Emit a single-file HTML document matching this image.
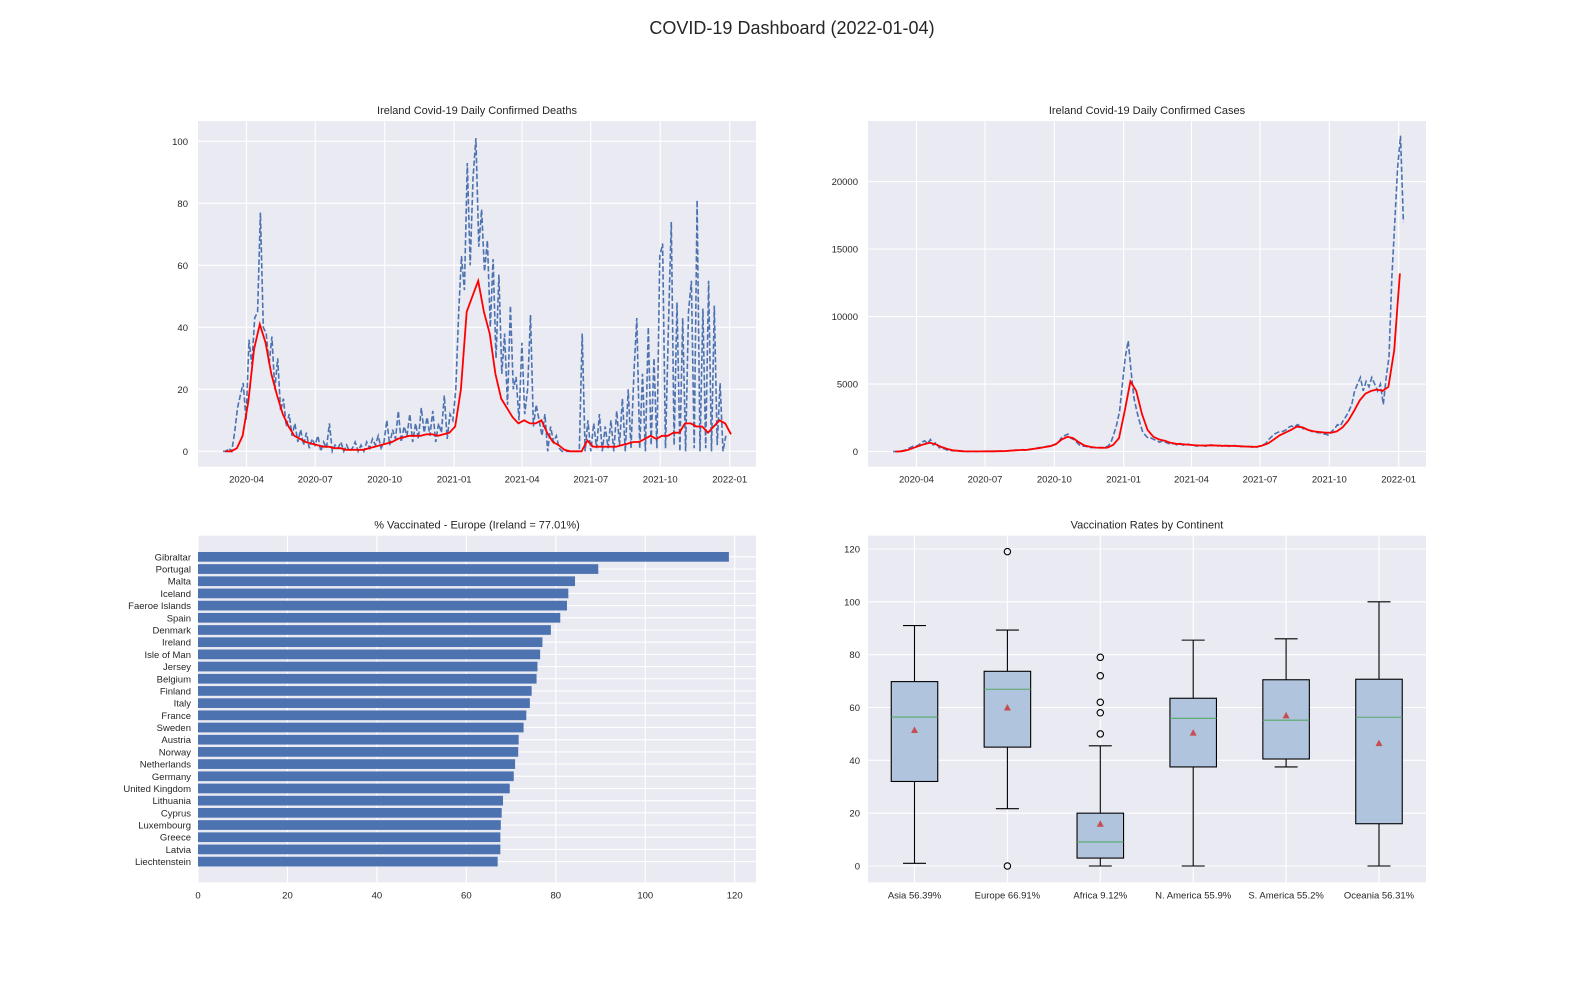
<!DOCTYPE html>
<html><head><meta charset="utf-8"><title>COVID-19 Dashboard</title>
<style>
html,body{margin:0;padding:0;background:#fff;}
svg{display:block;font-family:"Liberation Sans",Arial,sans-serif;}
</style></head>
<body>
<svg id="fig" width="1584" height="1008" viewBox="0 0 1584 1008" xmlns="http://www.w3.org/2000/svg">
<text x="792" y="34" text-anchor="middle" font-size="18" fill="#262626">COVID-19 Dashboard (2022-01-04)</text>
</svg>
<script>
// ---------- DATA ----------
// Daily deaths (raw), 8 samples per month, Mar 2020 .. Dec 2021
const deathsRaw = [
[0,0,1,0,6,14,18,22],[10,36,28,43,45,77,40,38],[28,37,20,30,13,17,8,12],[5,9,3,7,2,6,1,4],
[2,5,0,3,1,9,0,2],[1,3,0,2,0,1,3,0],[2,0,3,1,4,2,5,1],[3,10,2,7,4,13,3,8],
[5,12,3,9,4,14,6,11],[5,13,3,9,6,18,4,12],[10,20,45,63,52,93,60,88],[101,66,78,58,68,40,62,30],
[57,25,38,15,47,20,24,10],[35,12,20,44,8,15,10,5],[12,0,8,3,5,1,0,0],[0,0,0,0,0,38,0,10],
[0,9,1,12,0,8,1,10],[0,13,2,17,0,20,1,25],[43,1,25,0,40,2,30,1],[63,67,1,40,74,2,48,0],
[43,0,45,55,1,81,0,46],[1,55,0,47,2,22,0,5]];
// 7-day average deaths, 4 samples per month
const deathsAvg = [
[0,0,1,5],[16,33,41,35],[25,18,12,8],[5,4,3,2.5],[2,1.5,1.5,1],[1,0.5,0.5,0.5],[0.5,1,1.5,2],
[2.5,3,4,4.5],[5,5,5,5.5],[5.5,5,5.5,6],[8,20,45,50],[55,45,38,25],[17,14,11,9],[10,9,9,10],
[6,3,2,0.5],[0,0,0,3.5],[1.5,1.5,1.5,1.5],[1.5,2,2.5,3],[3,4,5,4],[5,5,6,6],[9,9,8,8],[6,8,10,9],[5.5]];
// Daily cases (raw), 8 samples per month, Mar 2020 .. Jan 2022
const casesRaw = [
[0,0,10,50,100,200,300,400],[400,500,700,800,600,900,500,700],[300,250,200,100,80,60,50,40],
[20,15,10,20,10,15,10,20],[20,30,20,30,20,40,30,50],[60,80,100,120,90,150,100,200],
[150,200,250,300,300,350,400,450],[500,600,800,1100,1200,1300,1000,900],[700,500,400,400,350,300,300,300],
[300,300,350,400,700,1300,2000,3000],[5000,7000,8200,6000,4000,3000,2200,1500],[1200,1000,1000,900,800,700,800,700],
[600,550,600,500,600,500,450,550],[500,450,400,500,450,400,450,500],[450,400,450,400,450,400,380,450],
[400,350,400,350,380,350,300,350],[400,500,600,900,1100,1300,1400,1500],[1500,1600,1800,1900,1800,2000,1900,1700],
[1700,1600,1500,1500,1400,1400,1300,1300],[1200,1500,1700,2000,1900,2300,2600,3000],[3500,4500,5000,5500,4500,5200,4800,5500],
[5000,4500,5000,3500,5500,7000,13000,17000],[21000,23400,17000]];
// 7-day average cases, 4 samples per month
const casesAvg = [
[0,20,100,250],[400,550,650,550],[350,200,100,60],[20,15,15,15],[20,25,30,40],[70,100,120,130],
[200,250,330,400],[550,900,1100,1000],[700,450,350,300],[280,300,500,1000],[3000,5200,4500,2800],
[1600,1100,900,800],[650,580,550,520],[480,450,450,470],[450,430,430,420],[400,380,360,350],
[450,600,900,1200],[1400,1600,1850,1800],[1600,1500,1450,1400],[1400,1500,1800,2300],
[3000,3800,4300,4500],[4600,4500,4800,7500],[13200]];
const dateTicks = ["2020-04","2020-07","2020-10","2021-01","2021-04","2021-07","2021-10","2022-01"];
const dateTickDays = [31,122,214,306,396,487,579,671];
const deathTicks = [0,20,40,60,80,100];
const caseTicks = [0,5000,10000,15000,20000];

const countries = ["Gibraltar","Portugal","Malta","Iceland","Faeroe Islands","Spain","Denmark","Ireland","Isle of Man","Jersey","Belgium","Finland","Italy","France","Sweden","Austria","Norway","Netherlands","Germany","United Kingdom","Lithuania","Cyprus","Luxembourg","Greece","Latvia","Liechtenstein"];
const vaccinated = [118.7,89.5,84.3,82.8,82.5,81.0,78.9,77.01,76.5,75.9,75.7,74.6,74.2,73.4,72.8,71.7,71.6,70.9,70.6,69.7,68.2,67.9,67.7,67.6,67.6,67.0];
const barTicks = [0,20,40,60,80,100,120];

const continents = ["Asia 56.39%","Europe 66.91%","Africa 9.12%","N. America 55.9%","S. America 55.2%","Oceania 56.31%"];
const boxLow = [1,21.7,0,0,37.5,0];
const boxQ1 = [32,45,3,37.5,40.5,16];
const boxMed = [56.39,66.91,9.12,55.9,55.2,56.31];
const boxMean = [51.5,60,16,50.5,57,46.5];
const boxQ3 = [69.8,73.7,20,63.5,70.5,70.7];
const boxHigh = [91,89.3,45.5,85.5,86,100];
const boxOutliers = [[],[119,0],[50,58,62,72,79],[],[],[]];
const boxTicks = [0,20,40,60,80,100,120];

// ---------- HELPERS ----------
const NS = "http://www.w3.org/2000/svg";
const fig = document.getElementById('fig');
function mk(tag, attrs, parent){
  const e = document.createElementNS(NS, tag);
  for (const k in attrs) e.setAttribute(k, attrs[k]);
  (parent||fig).appendChild(e); return e;
}
const BG = "#eaeaf2", TXT = "#262626";
function axesBg(x0,y0,w,h,name){
  const r = mk('rect',{x:x0,y:y0,width:w,height:h,fill:BG});
  
  
}
function gridV(x,y0,y1){ mk('line',{x1:x,x2:x,y1:y0,y2:y1,stroke:'#fff','stroke-width':1.1}); }
function gridH(y,x0,x1){ mk('line',{x1:x0,x2:x1,y1:y,y2:y,stroke:'#fff','stroke-width':1.1}); }
function label(txt,x,y,anchor,size,name){
  const t = mk('text',{x:x,y:y,'text-anchor':anchor,'font-size':size,fill:TXT});
  t.textContent = txt;
  
  
  return t;
}
function monthSeries(arr){
  const pts = [];
  arr.forEach((m,mi)=>{ const n = (mi===arr.length-1 && m.length<8 && arr[0].length===8) ? 8 : arr[0].length;
    m.forEach((v,k)=>pts.push([mi*30.44 + k*30.44/n, v])); });
  return pts;
}

// ---------- TIME SERIES CHART ----------
function timeChart(o){
  axesBg(o.x0,o.y0,o.w,o.h,o.name+'-plot-area');
  const xs = d => o.xDay0 + d*o.pxDay;
  const ys = v => o.yZero - v*o.pxVal;
  dateTickDays.forEach((d,i)=>{
    gridV(xs(d),o.y0,o.y0+o.h);
    label(dateTicks[i], xs(d), o.y0+o.h+16, 'middle', 9.5, o.name+'-x-tick');
  });
  o.ticks.forEach(v=>{
    gridH(ys(v),o.x0,o.x0+o.w);
    label(String(v), o.x0-10, ys(v)+3.5, 'end', 9.5, o.name+'-y-tick');
  });
  label(o.title, o.x0+o.w/2, o.y0-7, 'middle', 11, o.name+'-title');
  const raw = monthSeries(o.raw);
  const rp = mk('path',{d:raw.map((p,i)=>(i?'L':'M')+xs(p[0]).toFixed(1)+','+ys(p[1]).toFixed(1)).join(''),
    fill:'none',stroke:'#4c72b0','stroke-width':1.6,'stroke-dasharray':'5.5,2.4'});
  
  
  const avg = [];
  o.avg.forEach((m,mi)=>m.forEach((v,k)=>avg.push([mi*30.44 + k*30.44/4 + 3, v])));
  const ap = mk('path',{d:avg.map((p,i)=>(i?'L':'M')+xs(p[0]).toFixed(1)+','+ys(p[1]).toFixed(1)).join(''),
    fill:'none',stroke:'#ff0000','stroke-width':1.8});
  
  
}
timeChart({x0:198,y0:121,w:558,h:345.7,xDay0:223.1,pxDay:0.755,yZero:451.3,pxVal:3.1,
  ticks:deathTicks,raw:deathsRaw,avg:deathsAvg,title:'Ireland Covid-19 Daily Confirmed Deaths',name:'deaths-chart'});
timeChart({x0:868,y0:121,w:558,h:345.7,xDay0:893.1,pxDay:0.7534,yZero:451.6,pxVal:0.0135,
  ticks:caseTicks,raw:casesRaw,avg:casesAvg,title:'Ireland Covid-19 Daily Confirmed Cases',name:'cases-chart'});

// ---------- BAR CHART ----------
(function(){
  const x0=198,y0=535.7,w=558,h=346.6;
  axesBg(x0,y0,w,h,'vaccinated-europe-plot-area');
  const xs = v => 198 + v*4.4725;
  const yc = i => 556.85 + i*12.19;
  barTicks.forEach(v=>{ gridV(xs(v),y0,y0+h); label(String(v), xs(v), y0+h+16, 'middle', 9.5, 'bar-x-tick'); });
  countries.forEach((c,i)=>{ gridH(yc(i),x0,x0+w); });
  countries.forEach((c,i)=>{
    const r = mk('rect',{x:xs(0),y:yc(i)-4.85,width:xs(vaccinated[i])-xs(0),height:9.7,fill:'#4c72b0'});
    
    
    label(c, x0-7, yc(i)+3.5, 'end', 9.5, 'bar-country-label');
  });
  label('% Vaccinated - Europe (Ireland = 77.01%)', x0+w/2, y0-7, 'middle', 11, 'bar-chart-title');
})();

// ---------- BOX PLOT ----------
(function(){
  const x0=868,y0=535.7,w=558,h=346.6;
  axesBg(x0,y0,w,h,'continent-boxplot-plot-area');
  const ys = v => 866 - v*2.6417;
  const xc = i => 914.5 + i*92.9;
  boxTicks.forEach(v=>{ gridH(ys(v),x0,x0+w); label(String(v), x0-8, ys(v)+3.5, 'end', 9.5, 'box-y-tick'); });
  continents.forEach((c,i)=>{ gridV(xc(i),y0,y0+h); label(c, xc(i), y0+h+16, 'middle', 9.5, 'box-x-label'); });
  const bw=46.5, cw=23;
  continents.forEach((c,i)=>{
    const g = mk('g',{});
    
    
    const x=xc(i);
    mk('line',{x1:x,x2:x,y1:ys(boxQ1[i]),y2:ys(boxLow[i]),stroke:'#000','stroke-width':1.1},g);
    mk('line',{x1:x,x2:x,y1:ys(boxQ3[i]),y2:ys(boxHigh[i]),stroke:'#000','stroke-width':1.1},g);
    mk('line',{x1:x-cw/2,x2:x+cw/2,y1:ys(boxLow[i]),y2:ys(boxLow[i]),stroke:'#000','stroke-width':1.1},g);
    mk('line',{x1:x-cw/2,x2:x+cw/2,y1:ys(boxHigh[i]),y2:ys(boxHigh[i]),stroke:'#000','stroke-width':1.1},g);
    mk('rect',{x:x-bw/2,y:ys(boxQ3[i]),width:bw,height:ys(boxQ1[i])-ys(boxQ3[i]),fill:'#b0c4de',stroke:'#000','stroke-width':1.1},g);
    mk('line',{x1:x-bw/2,x2:x+bw/2,y1:ys(boxMed[i]),y2:ys(boxMed[i]),stroke:'#55a868','stroke-width':1.1},g);
    const my = ys(boxMean[i]);
    mk('polygon',{points:`${x-3.5},${my+3} ${x+3.5},${my+3} ${x},${my-3.5}`,fill:'#c44e52'},g);
    boxOutliers[i].forEach(v=>{ mk('circle',{cx:x,cy:ys(v),r:3.2,fill:'none',stroke:'#000','stroke-width':1.1},g); });
  });
  label('Vaccination Rates by Continent', x0+w/2, y0-7, 'middle', 11, 'boxplot-title');
})();
</script>
</body></html>
